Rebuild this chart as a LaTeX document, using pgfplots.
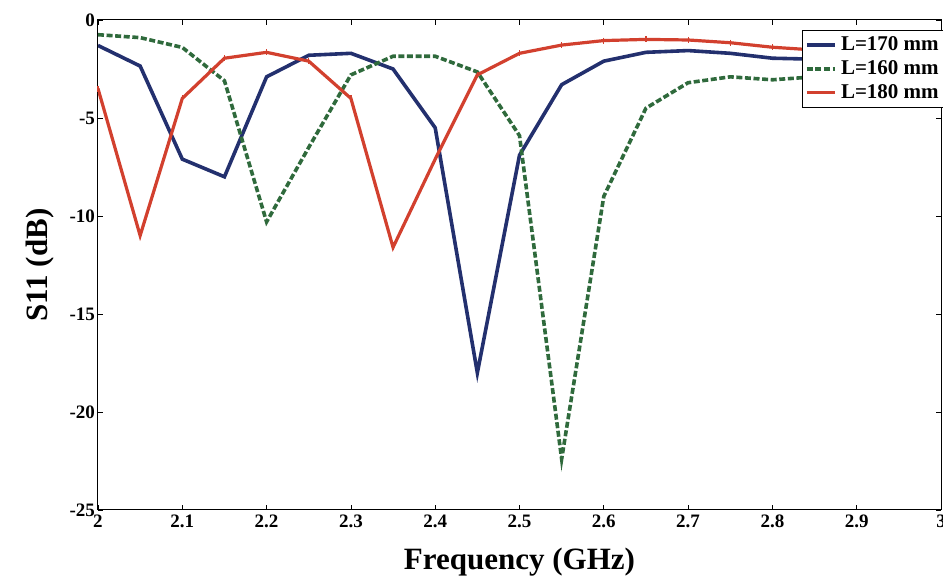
\documentclass[border=0pt]{standalone}
\usepackage{pgfplots}
\pgfplotsset{compat=1.18}
\usepackage{fontspec}
\setmainfont{Liberation Serif}

\definecolor{lblue}{HTML}{23306E}
\definecolor{lgreen}{HTML}{2F6A3C}
\definecolor{lred}{HTML}{D2402E}

\begin{document}
\begin{tikzpicture}[x=0.5pt,y=0.5pt]
\begin{axis}[
  scale only axis,
  width=421.5pt, height=245pt,
  xmin=2, xmax=3, ymin=-25, ymax=0,
  xtick={2,2.1,...,3.01},
  ytick={-25,-20,...,0},
  xticklabels={2,2.1,2.2,2.3,2.4,2.5,2.6,2.7,2.8,2.9,3},
  tick align=inside,
  major tick length=2.5pt,
  tick style={black, line width=0.4pt},
  axis line style={black, line width=0.5pt},
  tick label style={font=\fontsize{9.5}{10}\selectfont\bfseries},
  xticklabel style={yshift=1pt},
  yticklabel style={xshift=2pt},
  /pgf/number format/assume math mode=true,
  xlabel={\fontsize{15.5}{16}\selectfont\bfseries Frequency (GHz)},
  ylabel={\fontsize{15.5}{16}\selectfont\bfseries S11 (dB)},
  xlabel style={yshift=-3pt},
  ylabel style={yshift=1pt},
  legend style={at={(1.005,0.98)}, anchor=north east, draw=black, line width=0.5pt,
    font=\fontsize{10.5}{11}\selectfont\bfseries, inner sep=1pt,
    row sep=-0.5pt, fill=white},
  legend cell align=left,
  legend image code/.code={\draw[#1] (0pt,0pt) -- (0.5cm,0pt);},
]
\addplot[color=lblue, line width=1.8pt] coordinates {
 (2.00,-1.3) (2.05,-2.35) (2.10,-7.1) (2.15,-8.0) (2.20,-2.9) (2.25,-1.8)
 (2.30,-1.7) (2.35,-2.5) (2.40,-5.5) (2.45,-18.0) (2.50,-6.9) (2.55,-3.3)
 (2.60,-2.1) (2.65,-1.65) (2.70,-1.56) (2.75,-1.7) (2.80,-1.95) (2.85,-2.0)
 (2.90,-2.0) (2.95,-2.0) (3.00,-2.0)};
\addlegendentry{L=170 mm}
\addplot[color=lgreen, line width=1.8pt, dash pattern=on 3pt off 1.3pt] coordinates {
 (2.00,-0.75) (2.05,-0.9) (2.10,-1.4) (2.15,-3.1) (2.20,-10.3) (2.25,-6.5)
 (2.30,-2.8) (2.35,-1.85) (2.40,-1.85) (2.45,-2.65) (2.50,-5.9) (2.55,-22.4)
 (2.60,-9.0) (2.65,-4.5) (2.70,-3.2) (2.75,-2.9) (2.80,-3.05) (2.85,-2.9)
 (2.90,-2.85) (2.95,-2.8) (3.00,-2.8)};
\addlegendentry{L=160 mm}
\addplot[color=lred, line width=1.6pt, mark=|, mark size=1.5pt, mark options={line width=0.6pt}] coordinates {
 (2.00,-3.5) (2.05,-11.0) (2.10,-4.0) (2.15,-1.95) (2.20,-1.65) (2.25,-2.1)
 (2.30,-4.0) (2.35,-11.6) (2.40,-7.1) (2.45,-2.8) (2.50,-1.7) (2.55,-1.28)
 (2.60,-1.05) (2.65,-0.99) (2.70,-1.02) (2.75,-1.16) (2.80,-1.39) (2.85,-1.53)
 (2.90,-1.6) (2.95,-1.7) (3.00,-1.75)};
\addlegendentry{L=180 mm}
\end{axis}
\pgfresetboundingbox
\path[use as bounding box] ([xshift=-49pt,yshift=-33.5pt]current axis.south west)
  rectangle ([xshift=1pt,yshift=10pt]current axis.north east);
\end{tikzpicture}
\end{document}
